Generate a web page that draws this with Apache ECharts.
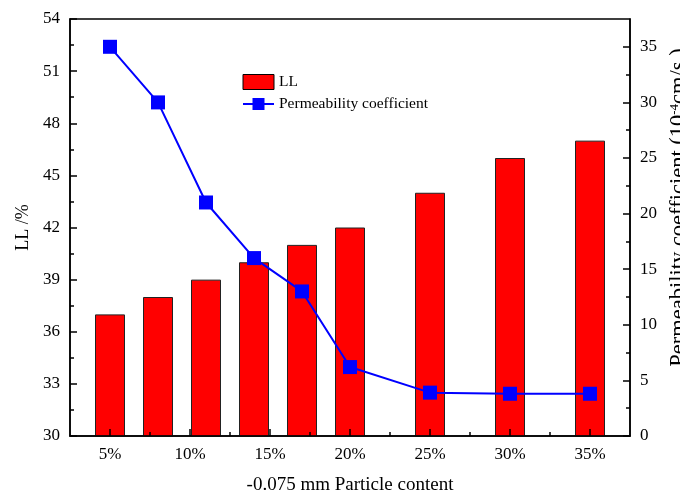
<!DOCTYPE html>
<html>
<head>
<meta charset="utf-8">
<script src="https://cdn.jsdelivr.net/npm/echarts@6/dist/echarts.min.js"></script>
<style>
  html, body { margin: 0; padding: 0; background: #fff; }
  #chart { width: 680px; height: 496px; }
</style>
</head>
<body>
<div id="chart"></div>
<script>
// Fine-particle content (%) of each specimen
const particleContent = [5, 8, 11, 14, 17, 20, 25, 30, 35];
// Liquid limit LL (%)
const liquidLimit = [37, 38, 39, 40, 41, 42, 44, 46, 47];
// Permeability coefficient (10^-4 cm/s)
const permeability = [35, 30, 21, 16, 13, 6.2, 3.9, 3.8, 3.8];

const xLabelValues = [5, 10, 15, 20, 25, 30, 35];
const xMinorValues = [7.5, 12.5, 17.5, 22.5, 27.5, 32.5];
const rightLabelValues = [0, 5, 10, 15, 20, 25, 30, 35];
const rightMinorValues = [2.5, 7.5, 12.5, 17.5, 22.5, 27.5, 32.5];

const FONT = '"Liberation Serif", "Times New Roman", serif';
const lineStyle = { color: '#000', width: 1.5 };

const chart = echarts.init(document.getElementById('chart'), null, { renderer: 'canvas' });

chart.setOption({
  animation: false,
  backgroundColor: '#fff',
  textStyle: { fontFamily: FONT, color: '#000' },
  grid: {
    left: 70, right: 50, top: 19, bottom: 60,
    outerBoundsMode: 'none', containLabel: false,
    show: true, borderColor: '#000', borderWidth: 1.5, backgroundColor: 'transparent'
  },
  legend: {
    left: 237, top: 69, orient: 'vertical',
    itemWidth: 31, itemHeight: 15, itemGap: 6,
    textStyle: { fontFamily: FONT, fontSize: 15.5, color: '#000' },
    data: [
      { name: 'LL', icon: 'rect', itemStyle: { color: '#ff0000', borderColor: '#000', borderWidth: 1 } },
      { name: 'Permeability coefficient' }
    ]
  },
  xAxis: [
    {
      type: 'value', min: 2.5, max: 37.5, position: 'bottom', z: 10,
      name: '-0.075 mm Particle content', nameLocation: 'middle', nameGap: 40,
      nameTextStyle: { fontFamily: FONT, fontSize: 19, color: '#000' },
      axisLine: { show: true, lineStyle: lineStyle },
      axisTick: { show: true, inside: true, length: 7, customValues: xLabelValues, lineStyle: lineStyle },
      axisLabel: { customValues: xLabelValues, formatter: v => v + '%', fontFamily: FONT, fontSize: 17, color: '#000', margin: 10 },
      splitLine: { show: false }
    },
    {
      type: 'value', min: 2.5, max: 37.5, position: 'bottom', gridIndex: 0, z: 10,
      axisLine: { show: false },
      axisTick: { show: true, inside: true, length: 4, customValues: xMinorValues, lineStyle: lineStyle },
      axisLabel: { show: false },
      splitLine: { show: false }
    }
  ],
  yAxis: [
    {
      type: 'value', min: 30, max: 54, interval: 3, position: 'left', z: 10,
      name: 'LL /%', nameLocation: 'middle', nameGap: 33, nameRotate: 90,
      nameTextStyle: { fontFamily: FONT, fontSize: 18, color: '#000' },
      axisLine: { show: true, lineStyle: lineStyle },
      axisTick: { show: true, inside: true, length: 7, lineStyle: lineStyle },
      minorTick: { show: true, splitNumber: 2, length: 4, lineStyle: { color: '#000', width: 1.5 } },
      axisLabel: { fontFamily: FONT, fontSize: 17, color: '#000', margin: 10 },
      splitLine: { show: false }
    },
    {
      type: 'value', min: 0, max: 37.5, position: 'right', z: 10,
      name: '{n|Permeability coefficient (10}{s|-4}{n|cm/s )}',
      nameLocation: 'middle', nameGap: 22, nameRotate: 90,
      nameTextStyle: {
        padding: [0, 0, 0, 40],
        rich: {
          n: { fontFamily: FONT, fontSize: 22.5, color: '#000' },
          s: { fontFamily: FONT, fontSize: 13, color: '#000', verticalAlign: 'top', padding: [0, 0, 10, 0] }
        }
      },
      axisLine: { show: true, lineStyle: lineStyle },
      axisTick: { show: true, inside: true, length: 7, customValues: rightLabelValues, lineStyle: lineStyle },
      axisLabel: { customValues: rightLabelValues, fontFamily: FONT, fontSize: 17, color: '#000', margin: 10 },
      splitLine: { show: false }
    },
    {
      type: 'value', min: 0, max: 37.5, position: 'right', z: 10,
      axisLine: { show: false },
      axisTick: { show: true, inside: true, length: 4, customValues: rightMinorValues, lineStyle: lineStyle },
      axisLabel: { show: false },
      splitLine: { show: false }
    }
  ],
  series: [
    {
      name: 'LL', type: 'bar', xAxisIndex: 0, yAxisIndex: 0,
      barWidth: 30,
      itemStyle: { color: '#ff0000', borderColor: '#222', borderWidth: 1 },
      data: particleContent.map((x, i) => [x, liquidLimit[i]]),
      z: 2
    },
    {
      name: 'Permeability coefficient', type: 'line', xAxisIndex: 0, yAxisIndex: 1,
      symbol: 'rect', symbolSize: 14,
      lineStyle: { color: '#0000ff', width: 2 },
      itemStyle: { color: '#0000ff' },
      data: particleContent.map((x, i) => [x, permeability[i]]),
      z: 3
    }
  ]
});
</script>
</body>
</html>
